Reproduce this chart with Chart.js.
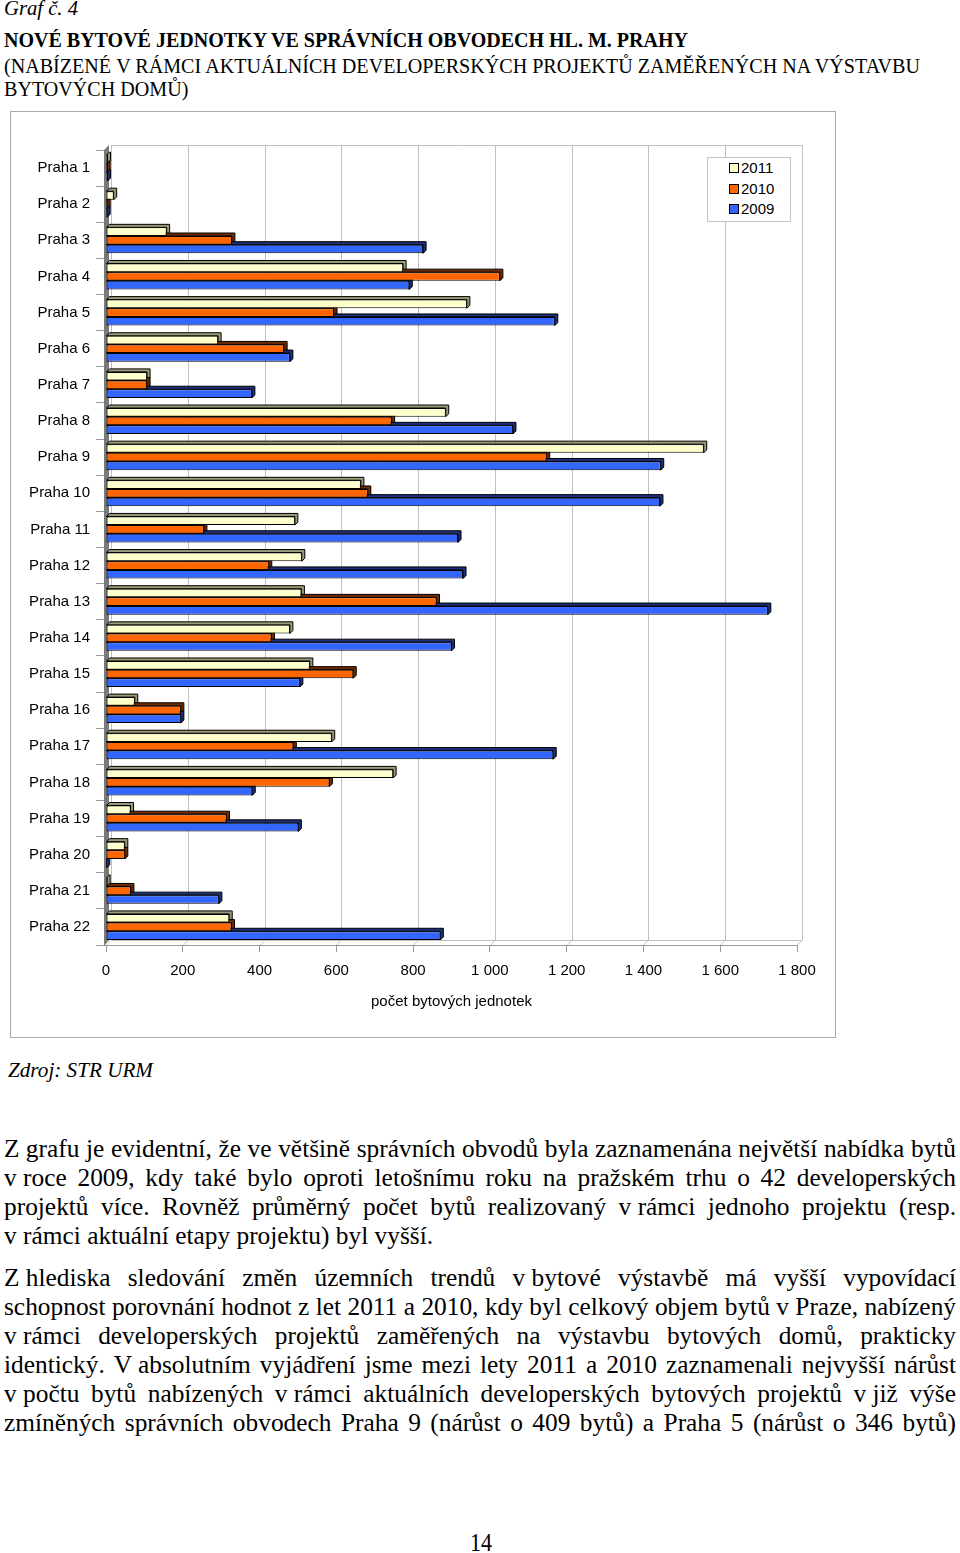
<!DOCTYPE html>
<html lang="cs">
<head>
<meta charset="utf-8">
<title>Graf č. 4</title>
<script src="https://cdn.jsdelivr.net/npm/chart.js@4.4.0/dist/chart.umd.min.js"></script>
<style>
  html, body { margin: 0; padding: 0; background: #fff; }
  body { width: 960px; height: 1553px; position: relative; overflow: hidden;
         font-family: "Liberation Serif", "Times New Roman", serif; color: #000; }
  .t { position: absolute; white-space: nowrap; transform-origin: 0 50%; }
  .np { display: inline-block; }
  #box { position: absolute; left: 10px; top: 111px; width: 826px; height: 927px;
         border: 1px solid #aaa; box-sizing: border-box; background: #fff; }
  #box canvas { position: absolute; left: 0; top: 0; }
  #legend { position: absolute; left: 707px; top: 157px; width: 84px; height: 65px;
            border: 1px solid #c4c4c4; box-sizing: border-box; background: #fff;
            font-family: "Liberation Sans", Arial, sans-serif; font-size: 15px; }
  #legend .row { position: absolute; left: 0; height: 20px; line-height: 20px; }
  #legend .sq { position: absolute; left: 21px; top: 5px; width: 8px; height: 8px; border: 1px solid #000; }
  #legend .lb { position: absolute; left: 33px; top: 0; }
</style>
</head>
<body>

<div id="box"><canvas id="graf" width="824" height="925"></canvas></div>
<div id="legend"></div>

<script>
// data
var obvody = ['Praha 1', 'Praha 2', 'Praha 3', 'Praha 4', 'Praha 5', 'Praha 6', 'Praha 7', 'Praha 8',
              'Praha 9', 'Praha 10', 'Praha 11', 'Praha 12', 'Praha 13', 'Praha 14', 'Praha 15', 'Praha 16',
              'Praha 17', 'Praha 18', 'Praha 19', 'Praha 20', 'Praha 21', 'Praha 22'];
var roky = ['2011', '2010', '2009'];
var byty2011 = [4, 20, 158, 774, 940, 292, 107, 885, 1557, 664, 492, 510, 509, 479, 531, 75, 588, 748, 64, 49, 3, 321];
var byty2010 = [3, 3, 328, 1026, 594, 464, 107, 744, 1148, 682, 255, 424, 861, 431, 644, 195, 488, 582, 314, 49, 65, 327];
var byty2009 = [4, 3, 826, 790, 1169, 479, 380, 1060, 1445, 1443, 917, 930, 1724, 900, 505, 195, 1165, 381, 501, 2, 294, 871];
var osaMax = 1800;
var osaKrok = 200;

var barvy = ['#FFFFCC', '#FF6600', '#3366FF'];
var boky = ['#9a9a78', '#6e2a00', '#1b2f7a'];

// 3D efekt: zadni stena, podlaha, boky sloupcu
var hloubka = {
    id: 'hloubka',
    beforeDatasetsDraw: function (chart) {
        var ctx = chart.ctx, a = chart.chartArea, x = chart.scales.x;
        var D = 5;
        ctx.save();
        ctx.lineWidth = 1;
        ctx.strokeStyle = '#c0c0c0';
        x.ticks.forEach(function (t) {
            var px = Math.round(x.getPixelForValue(t.value)) + 0.5;
            ctx.beginPath();
            ctx.moveTo(px, a.bottom);
            ctx.lineTo(px + D, a.bottom - D);
            ctx.lineTo(px + D, a.top - D);
            ctx.stroke();
        });
        var r = Math.round(x.getPixelForValue(osaMax)) + D + 0.5;
        ctx.beginPath();
        ctx.moveTo(a.left + D, a.top - D + 0.5);
        ctx.lineTo(r, a.top - D + 0.5);
        ctx.moveTo(a.left + D, a.bottom - D + 0.5);
        ctx.lineTo(r, a.bottom - D + 0.5);
        ctx.stroke();

        // leva stena
        ctx.fillStyle = '#7a7a7a';
        ctx.beginPath();
        ctx.moveTo(a.left - 2, a.bottom + 1);
        ctx.lineTo(a.left - 2, a.top);
        ctx.lineTo(a.left + D - 2, a.top - D);
        ctx.lineTo(a.left + D - 2, a.bottom - D);
        ctx.closePath();
        ctx.fill();

        var d = 3;
        chart.data.datasets.forEach(function (ds, i) {
            var meta = chart.getDatasetMeta(i);
            meta.data.forEach(function (bar) {
                var p = bar.getProps(['x', 'y', 'base', 'height'], true);
                var t = p.y - p.height / 2, b = p.y + p.height / 2;
                ctx.fillStyle = boky[i];
                ctx.strokeStyle = '#000';
                ctx.beginPath();
                ctx.moveTo(p.base, t);
                ctx.lineTo(p.base + d, t - d);
                ctx.lineTo(p.x + d, t - d);
                ctx.lineTo(p.x + d, b - d);
                ctx.lineTo(p.x, b);
                ctx.lineTo(p.x, t);
                ctx.closePath();
                ctx.fill();
                ctx.stroke();
            });
        });
        ctx.restore();
    }
};

function mezery(v) {
    return String(v).replace(/\B(?=(\d{3})+(?!\d))/g, ' ');
}

Chart.defaults.font.family = '"Liberation Sans", Arial, sans-serif';
Chart.defaults.font.size = 15;
Chart.defaults.color = '#000';

var ctx = document.getElementById('graf').getContext('2d');
var graf = new Chart(ctx, {
    type: 'bar',
    data: {
        labels: obvody,
        datasets: [
            { label: roky[0], data: byty2011, backgroundColor: barvy[0] },
            { label: roky[1], data: byty2010, backgroundColor: barvy[1] },
            { label: roky[2], data: byty2009, backgroundColor: barvy[2] }
        ]
    },
    options: {
        indexAxis: 'y',
        responsive: false,
        animation: false,
        layout: { padding: { left: 10, right: 38, top: 38, bottom: 22 } },
        datasets: {
            bar: {
                borderColor: '#000',
                borderWidth: 1,
                borderSkipped: false,
                categoryPercentage: 0.72,
                barPercentage: 1
            }
        },
        scales: {
            x: {
                min: 0,
                max: osaMax,
                afterFit: function (s) { s.height = 70; },
                ticks: { stepSize: osaKrok, padding: 10, callback: function (v) { return mezery(v); } },
                grid: { drawOnChartArea: false, drawTicks: true, tickLength: 7, color: '#999' },
                border: { display: true, color: '#999' },
                title: { display: true, text: 'počet bytových jednotek', font: { size: 15 }, padding: { top: 4, bottom: 4 } }
            },
            y: {
                afterFit: function (s) { s.width = 85; },
                ticks: { padding: 6 },
                grid: { drawOnChartArea: false, drawTicks: true, tickLength: 10, color: '#999' },
                border: { display: false }
            }
        },
        plugins: {
            legend: { display: false },
            tooltip: { enabled: false }
        }
    },
    plugins: [hloubka]
});

// legenda
var leg = document.getElementById('legend');
roky.forEach(function (r, i) {
    var row = document.createElement('div');
    row.className = 'row';
    row.style.top = (i * 20.5) + 'px';
    row.innerHTML = '<span class="sq" style="background:' + barvy[i] + '"></span><span class="lb">' + r + '</span>';
    leg.appendChild(row);
});

// texty stranky
function radek(txt, o) {
    var el = document.createElement('div');
    el.className = 't';
    el.style.left = o.x + 'px';
    el.style.top = (o.cy - o.lh / 2) + 'px';
    el.style.fontSize = o.size + 'px';
    el.style.lineHeight = o.lh + 'px';
    if (o.weight) el.style.fontWeight = o.weight;
    if (o.style) el.style.fontStyle = o.style;
    el.innerHTML = txt.replace(/(^|\s)([vVzZ]) (\S+)/g, '$1<span class="np">$2 $3</span>');
    document.body.appendChild(el);
    return el;
}
function natural(el) { return el.getBoundingClientRect().width; }
function scaleX(el, s) { el.style.transform = 'scaleX(' + s + ')'; }

var e1 = radek('Graf č. 4', { x: 4, cy: 8, size: 21, lh: 22, style: 'italic' });
scaleX(e1, 74 / natural(e1));
var e2 = radek('NOVÉ BYTOVÉ JEDNOTKY VE SPRÁVNÍCH OBVODECH HL. M. PRAHY', { x: 4, cy: 40, size: 21, lh: 24, weight: 'bold' });
scaleX(e2, 684 / natural(e2));
var e3 = radek('(NABÍZENÉ V RÁMCI AKTUÁLNÍCH DEVELOPERSKÝCH PROJEKTŮ ZAMĚŘENÝCH NA VÝSTAVBU', { x: 4, cy: 66, size: 21, lh: 24 });
var s3 = 916 / natural(e3);
scaleX(e3, s3);
var e4 = radek('BYTOVÝCH DOMŮ)', { x: 4, cy: 89, size: 21, lh: 24 });
scaleX(e4, s3);
var e5 = radek('Zdroj: STR URM', { x: 8, cy: 1070, size: 21, lh: 24, style: 'italic' });
scaleX(e5, 145 / natural(e5));
var e6 = radek('14', { x: 470, cy: 1543, size: 25, lh: 28 });
scaleX(e6, 22 / natural(e6));

var odstavce = [
    { y: 1148, lines: [
        'Z grafu je evidentní, že ve většině správních obvodů byla zaznamenána největší nabídka bytů',
        'v roce 2009, kdy také bylo oproti letošnímu roku na pražském trhu o 42 developerských',
        'projektů více. Rovněž průměrný počet bytů realizovaný v rámci jednoho projektu (resp.',
        'v rámci aktuální etapy projektu) byl vyšší.'], last: false },
    { y: 1277, lines: [
        'Z hlediska sledování změn územních trendů v bytové výstavbě má vyšší vypovídací',
        'schopnost porovnání hodnot z let 2011 a 2010, kdy byl celkový objem bytů v Praze, nabízený',
        'v rámci developerských projektů zaměřených na výstavbu bytových domů, prakticky',
        'identický. V absolutním vyjádření jsme mezi lety 2011 a 2010 zaznamenali nejvyšší nárůst',
        'v počtu bytů nabízených v rámci aktuálních developerských bytových projektů v již výše',
        'zmíněných správních obvodech Praha 9 (nárůst o 409 bytů) a Praha 5 (nárůst o 346 bytů)'], last: true }
];
var sirka = 952, krokRadku = 29;
var prvky = [], sBody = 1;
odstavce.forEach(function (od) {
    od.lines.forEach(function (l, i) {
        var el = radek(l, { x: 4, cy: od.y + i * krokRadku, size: 26, lh: 29 });
        var just = od.last || i < od.lines.length - 1;
        prvky.push({ el: el, just: just });
        if (just) sBody = Math.min(sBody, sirka / (natural(el) + 1));
    });
});
prvky.forEach(function (p) {
    if (p.just) {
        p.el.style.whiteSpace = 'normal';
        p.el.style.width = (sirka / sBody) + 'px';
        p.el.style.textAlign = 'justify';
        p.el.style.textAlignLast = 'justify';
    }
    scaleX(p.el, sBody);
});
</script>
</body>
</html>
